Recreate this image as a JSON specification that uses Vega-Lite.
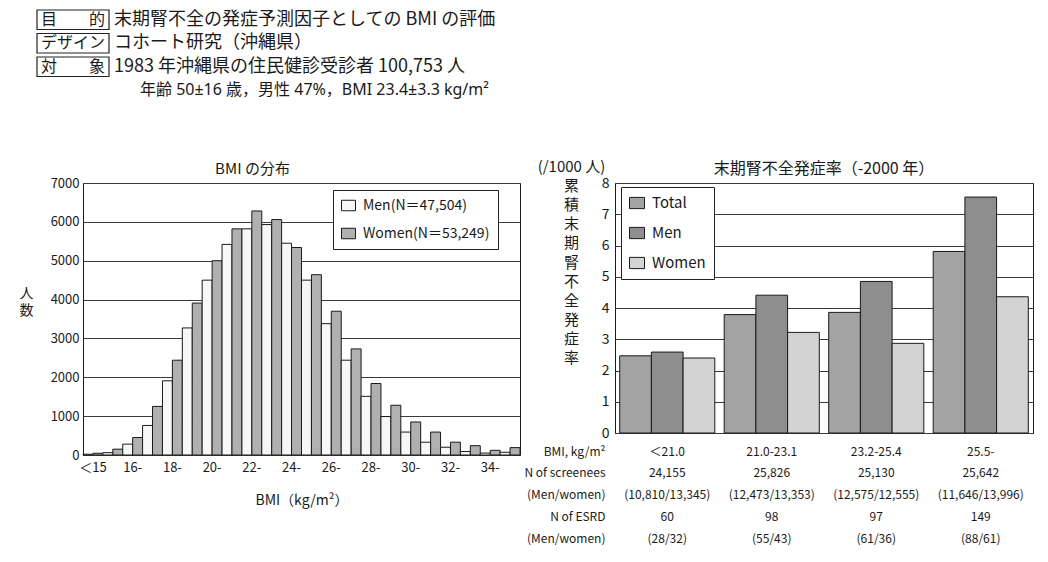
{
  "$schema": "https://vega.github.io/schema/vega-lite/v6.json",
  "padding": {"left": 18, "top": 8, "right": 5, "bottom": 5},
  "config": {
    "font": "Noto Sans CJK JP",
    "view": {"stroke": "#1a1a1a", "strokeWidth": 1},
    "axis": {"domain": false, "ticks": false, "gridColor": "#3a3a3a", "gridWidth": 1, "gridOpacity": 1, "labelColor": "#1a1a1a", "titleColor": "#1a1a1a", "titleFontWeight": "normal"},
    "legend": {"labelColor": "#1a1a1a"},
    "title": {"fontWeight": "normal", "color": "#1a1a1a"}
  },
  "spacing": 56,
  "resolve": {"scale": {"color": "independent", "x": "independent", "y": "independent", "xOffset": "independent"}, "legend": {"color": "independent"}},
  "vconcat": [
    {
      "width": 72,
      "height": 94,
      "view": {"stroke": null},
      "data": {"values": [
        {"row": "1", "label": "目　　的", "text": "末期腎不全の発症予測因子としての BMI の評価"},
        {"row": "2", "label": "デザイン", "text": "コホート研究（沖縄県）"},
        {"row": "3", "label": "対　　象", "text": "1983 年沖縄県の住民健診受診者 100,753 人"},
        {"row": "4", "label": "", "text": "年齢 50±16 歳，男性 47%，BMI 23.4±3.3 kg/m²"}
      ]},
      "encoding": {
        "x": {"datum": "box", "type": "nominal", "scale": {"domain": ["box"], "paddingInner": 0, "paddingOuter": 0}, "axis": null},
        "y": {"field": "row", "type": "ordinal", "scale": {"domain": ["1", "2", "3", "4"], "paddingInner": 0.17, "paddingOuter": 0.085}, "axis": null}
      },
      "layer": [
        {"transform": [{"filter": "datum.label != ''"}], "mark": {"type": "bar", "fill": "white", "stroke": "#222", "strokeWidth": 1.2, "xOffset": -46}},
        {"transform": [{"filter": "datum.label != ''"}], "mark": {"type": "text", "fontSize": 16, "dx": -46, "color": "#1a1a1a"}, "encoding": {"text": {"field": "label"}}},
        {"transform": [{"filter": "datum.label != ''"}], "mark": {"type": "text", "fontSize": 18, "align": "left", "dx": -5, "color": "#1a1a1a"}, "encoding": {"text": {"field": "text"}}},
        {"transform": [{"filter": "datum.label == ''"}], "mark": {"type": "text", "font": "Noto Sans, Noto Sans CJK JP", "fontSize": 16, "align": "left", "dx": 21, "color": "#1a1a1a"}, "encoding": {"text": {"field": "text"}}}
      ]
    },
    {
      "spacing": 2,
      "resolve": {"scale": {"color": "independent", "x": "independent", "y": "independent", "xOffset": "independent"}, "legend": {"color": "independent"}},
      "hconcat": [
        {
          "width": 437,
          "height": 272,
          "title": {"text": "BMI の分布", "fontSize": 15, "offset": 0, "dx": -49},
          "data": {"values": [
            {"bin": "＜15", "sex": "Men", "n": 20}, {"bin": "＜15", "sex": "Women", "n": 45},
            {"bin": "15-", "sex": "Men", "n": 60}, {"bin": "15-", "sex": "Women", "n": 150},
            {"bin": "16-", "sex": "Men", "n": 280}, {"bin": "16-", "sex": "Women", "n": 450},
            {"bin": "17-", "sex": "Men", "n": 760}, {"bin": "17-", "sex": "Women", "n": 1250},
            {"bin": "18-", "sex": "Men", "n": 1910}, {"bin": "18-", "sex": "Women", "n": 2440},
            {"bin": "19-", "sex": "Men", "n": 3270}, {"bin": "19-", "sex": "Women", "n": 3910},
            {"bin": "20-", "sex": "Men", "n": 4500}, {"bin": "20-", "sex": "Women", "n": 5000},
            {"bin": "21-", "sex": "Men", "n": 5420}, {"bin": "21-", "sex": "Women", "n": 5820},
            {"bin": "22-", "sex": "Men", "n": 5820}, {"bin": "22-", "sex": "Women", "n": 6280},
            {"bin": "23-", "sex": "Men", "n": 5930}, {"bin": "23-", "sex": "Women", "n": 6060},
            {"bin": "24-", "sex": "Men", "n": 5450}, {"bin": "24-", "sex": "Women", "n": 5340},
            {"bin": "25-", "sex": "Men", "n": 4500}, {"bin": "25-", "sex": "Women", "n": 4640},
            {"bin": "26-", "sex": "Men", "n": 3380}, {"bin": "26-", "sex": "Women", "n": 3700},
            {"bin": "27-", "sex": "Men", "n": 2440}, {"bin": "27-", "sex": "Women", "n": 2730},
            {"bin": "28-", "sex": "Men", "n": 1510}, {"bin": "28-", "sex": "Women", "n": 1840},
            {"bin": "29-", "sex": "Men", "n": 990}, {"bin": "29-", "sex": "Women", "n": 1280},
            {"bin": "30-", "sex": "Men", "n": 590}, {"bin": "30-", "sex": "Women", "n": 850},
            {"bin": "31-", "sex": "Men", "n": 330}, {"bin": "31-", "sex": "Women", "n": 590},
            {"bin": "32-", "sex": "Men", "n": 200}, {"bin": "32-", "sex": "Women", "n": 330},
            {"bin": "33-", "sex": "Men", "n": 90}, {"bin": "33-", "sex": "Women", "n": 240},
            {"bin": "34-", "sex": "Men", "n": 50}, {"bin": "34-", "sex": "Women", "n": 120},
            {"bin": "35-", "sex": "Men", "n": 70}, {"bin": "35-", "sex": "Women", "n": 190}
          ]},
          "mark": {"type": "bar", "stroke": "#1a1a1a", "strokeWidth": 1},
          "encoding": {
            "x": {
              "field": "bin", "type": "ordinal",
              "scale": {"domain": ["＜15", "15-", "16-", "17-", "18-", "19-", "20-", "21-", "22-", "23-", "24-", "25-", "26-", "27-", "28-", "29-", "30-", "31-", "32-", "33-", "34-", "35-"], "paddingInner": 0, "paddingOuter": 0},
              "axis": {"values": ["＜15", "16-", "18-", "20-", "22-", "24-", "26-", "28-", "30-", "32-", "34-"], "bandPosition": 1, "labelAngle": 0, "labelFontSize": 13, "labelPadding": 6, "grid": false, "title": "BMI（kg/m²）", "titleFontSize": 14, "titlePadding": 19}
            },
            "xOffset": {"field": "sex", "type": "nominal", "scale": {"domain": ["Men", "Women"], "paddingInner": 0, "paddingOuter": 0}},
            "y": {
              "field": "n", "type": "quantitative",
              "scale": {"domain": [0, 7000]},
              "axis": {"values": [0, 1000, 2000, 3000, 4000, 5000, 6000, 7000], "format": "d", "grid": true, "labelFontSize": 13, "labelPadding": 4, "title": ["人", "数"], "titleAngle": 0, "titleX": -57, "titleY": 110, "titleAlign": "center", "titleBaseline": "middle", "titleFontSize": 14, "titleLineHeight": 17.5}
            },
            "color": {
              "field": "sex", "type": "nominal",
              "scale": {"domain": ["Men", "Women"], "range": ["#f7f7f7", "#b0b0b0"]},
              "legend": {"orient": "none", "legendX": 250, "legendY": 7, "title": null, "labelExpr": "datum.value == 'Men' ? 'Men(N＝47,504)' : 'Women(N＝53,249)'", "labelFontSize": 14, "labelOffset": 7, "symbolType": "M-1,-0.75H1V0.75H-1Z", "symbolSize": 196, "symbolStrokeColor": "#1a1a1a", "symbolStrokeWidth": 1, "rowPadding": 13, "padding": 8, "strokeColor": "#222", "fillColor": "white"}
            }
          }
        },
        {
          "width": 418,
          "height": 250,
          "title": {"text": "末期腎不全発症率（-2000 年）", "fontSize": 16, "offset": -18},
          "data": {"values": [
            {"g": "＜21.0", "s": "Total", "v": 2.47}, {"g": "＜21.0", "s": "Men", "v": 2.59}, {"g": "＜21.0", "s": "Women", "v": 2.40},
            {"g": "21.0-23.1", "s": "Total", "v": 3.79}, {"g": "21.0-23.1", "s": "Men", "v": 4.41}, {"g": "21.0-23.1", "s": "Women", "v": 3.22},
            {"g": "23.2-25.4", "s": "Total", "v": 3.86}, {"g": "23.2-25.4", "s": "Men", "v": 4.85}, {"g": "23.2-25.4", "s": "Women", "v": 2.87},
            {"g": "25.5-", "s": "Total", "v": 5.81}, {"g": "25.5-", "s": "Men", "v": 7.55}, {"g": "25.5-", "s": "Women", "v": 4.36}
          ]},
          "mark": {"type": "bar", "stroke": "#1a1a1a", "strokeWidth": 1},
          "encoding": {
            "x": {
              "field": "g", "type": "ordinal",
              "scale": {"domain": ["＜21.0", "21.0-23.1", "23.2-25.4", "25.5-"], "paddingInner": 0.09, "paddingOuter": 0.045},
              "axis": {"orient": "bottom", "grid": false, "labelAngle": 0, "labelFontSize": 12, "labelPadding": 13, "labelBaseline": "top", "labelLineHeight": 21.8,
                "labelExpr": "datum.value == '＜21.0' ? ['＜21.0', '24,155', '(10,810/13,345)', '60', '(28/32)'] : datum.value == '21.0-23.1' ? ['21.0-23.1', '25,826', '(12,473/13,353)', '98', '(55/43)'] : datum.value == '23.2-25.4' ? ['23.2-25.4', '25,130', '(12,575/12,555)', '97', '(61/36)'] : ['25.5-', '25,642', '(11,646/13,996)', '149', '(88/61)']",
                "title": ["BMI, kg/m²", "N of screenees", "(Men/women)", "N of ESRD", "(Men/women)"], "titleAngle": 0, "titleAlign": "right", "titleBaseline": "top", "titleX": -10, "titleY": 13, "titleFontSize": 12, "titleLineHeight": 21.8}
            },
            "xOffset": {"field": "s", "type": "nominal", "scale": {"domain": ["Total", "Men", "Women"], "paddingInner": 0, "paddingOuter": 0}},
            "y": {
              "field": "v", "type": "quantitative",
              "scale": {"domain": [0, 8]},
              "axis": {"orient": "left", "values": [0, 1, 2, 3, 4, 5, 6, 7, 8], "grid": true, "labelFontSize": 14, "labelPadding": 6,
                "title": ["(/1000 人)", "\u00a0", "\u00a0", "累", "積", "末", "期", "腎", "不", "全", "発", "症", "率"], "titleAngle": 0, "titleX": -44, "titleY": -17, "titleAlign": "center", "titleBaseline": "middle", "titleFontSize": 15, "titleLineHeight": 19.2}
            },
            "color": {
              "field": "s", "type": "nominal",
              "scale": {"domain": ["Total", "Men", "Women"], "range": ["#a3a3a3", "#8e8e8e", "#d3d3d3"]},
              "legend": {"orient": "none", "legendX": 6, "legendY": 4, "title": null, "labelFontSize": 15, "labelOffset": 7, "symbolType": "M-1,-0.75H1V0.75H-1Z", "symbolSize": 225, "symbolStrokeColor": "#1a1a1a", "symbolStrokeWidth": 1, "rowPadding": 14, "padding": 8, "strokeColor": "#222", "fillColor": "white"}
            }
          }
        }
      ]
    }
  ]
}
